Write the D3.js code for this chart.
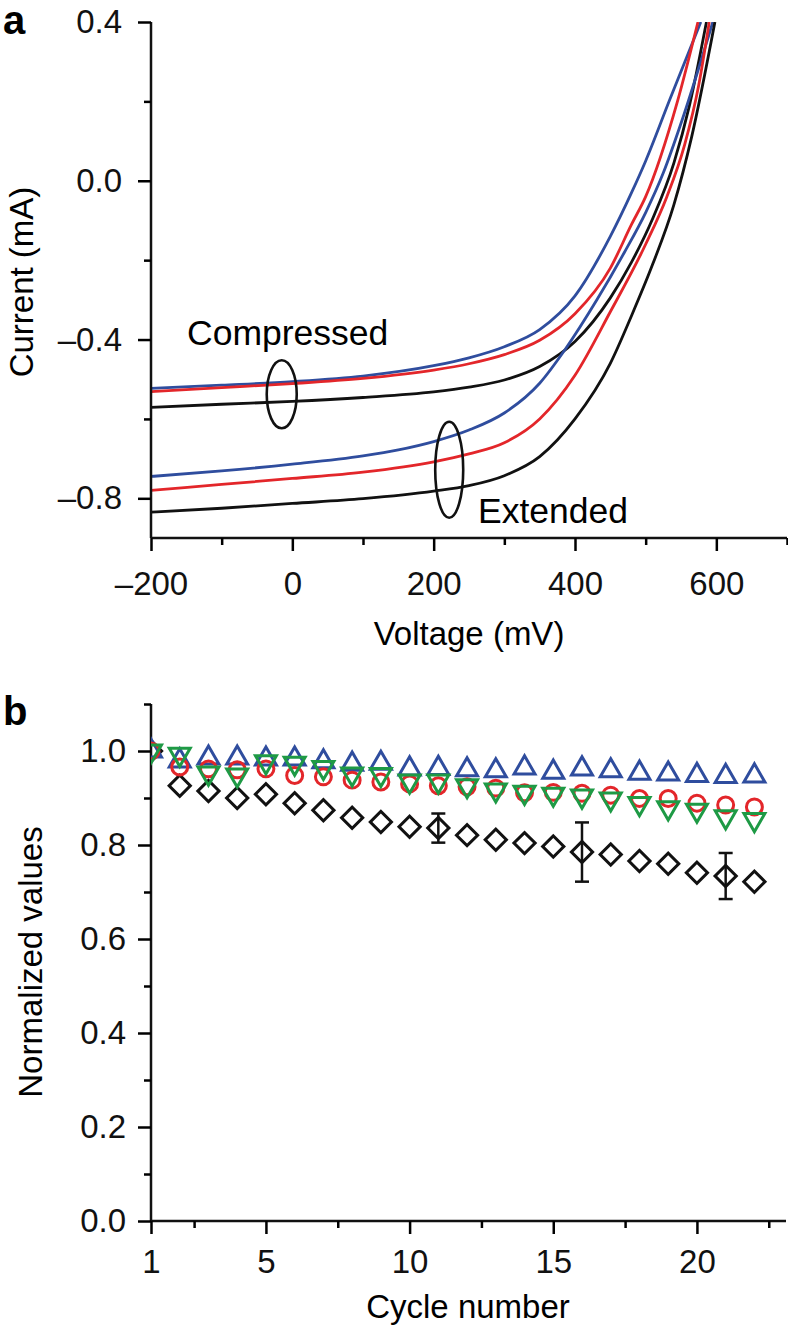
<!DOCTYPE html>
<html>
<head>
<meta charset="utf-8">
<script src="https://cdn.jsdelivr.net/npm/d3@7"></script>
<style>
  body { margin: 0; background: #fff; }
  svg { display: block; font-family: "Liberation Sans", Arial, sans-serif; }
</style>
</head>
<body>
<svg id="chart" width="788" height="1329"></svg>
<script>
// ---- panel a : I-V curves (voltage in mV, current in mA) ----
const compBlueV  = [-200, -100, 0, 100, 200, 250, 300, 350, 400, 450, 480, 500, 534, 578];
const compBlueI  = [-0.523, -0.515, -0.506, -0.492, -0.466, -0.446, -0.418, -0.375, -0.29, -0.14, -0.03, 0.05, 0.204, 0.40];
const compRedV   = [-200, -100, 0, 100, 200, 250, 300, 350, 400, 450, 480, 500, 545, 574];
const compRedI   = [-0.531, -0.521, -0.511, -0.498, -0.477, -0.461, -0.438, -0.402, -0.335, -0.22, -0.11, -0.04, 0.20, 0.40];
const compBlackV = [-200, -100, 0, 100, 200, 250, 300, 350, 400, 450, 480, 510, 540, 562, 586];
const compBlackI = [-0.571, -0.563, -0.556, -0.546, -0.532, -0.520, -0.502, -0.468, -0.405, -0.295, -0.205, -0.095, 0.045, 0.19, 0.40];
const extBlueV   = [-200, -100, 0, 100, 150, 200, 250, 300, 350, 386, 431, 470, 500, 525, 551, 595];
const extBlueI   = [-0.745, -0.731, -0.714, -0.693, -0.678, -0.657, -0.628, -0.585, -0.51, -0.425, -0.30, -0.18, -0.08, 0.02, 0.15, 0.40];
const extRedV    = [-200, -100, 0, 100, 200, 250, 300, 350, 400, 450, 500, 530, 555, 575, 590];
const extRedI    = [-0.780, -0.765, -0.750, -0.734, -0.708, -0.688, -0.66, -0.60, -0.49, -0.33, -0.16, -0.04, 0.09, 0.24, 0.40];
const extBlackV  = [-200, -100, 0, 100, 200, 250, 300, 350, 400, 450, 480, 510, 540, 565, 598];
const extBlackI  = [-0.835, -0.825, -0.813, -0.801, -0.782, -0.768, -0.743, -0.695, -0.60, -0.46, -0.34, -0.21, -0.06, 0.11, 0.40];

const voltMajorTicks = [-200, 0, 200, 400, 600];
const voltMinorTicks = [-100, 100, 300, 500, 700];
const currMajorTicks = [-0.8, -0.4, 0.0, 0.4];
const currMinorTicks = [-0.6, -0.2, 0.2];

// ---- panel b : normalized values vs cycle ----
const cycles     = [1, 2, 3, 4, 5, 6, 7, 8, 9, 10, 11, 12, 13, 14, 15, 16, 17, 18, 19, 20, 21, 22];
const blueUp     = [1.0, 0.979, 0.985, 0.985, 0.983, 0.983, 0.977, 0.972, 0.974, 0.962, 0.963, 0.960, 0.958, 0.964, 0.955, 0.962, 0.958, 0.953, 0.951, 0.948, 0.946, 0.947];
const redCircle  = [1.0, 0.966, 0.962, 0.960, 0.962, 0.948, 0.945, 0.938, 0.934, 0.930, 0.926, 0.924, 0.921, 0.911, 0.912, 0.910, 0.906, 0.899, 0.899, 0.889, 0.885, 0.881];
const greenDown  = [1.0, 0.993, 0.953, 0.949, 0.977, 0.974, 0.965, 0.951, 0.950, 0.936, 0.936, 0.926, 0.917, 0.912, 0.908, 0.904, 0.898, 0.888, 0.879, 0.874, 0.860, 0.854];
const blackDiam  = [1.0, 0.926, 0.915, 0.900, 0.908, 0.889, 0.874, 0.858, 0.849, 0.839, 0.836, 0.821, 0.811, 0.804, 0.797, 0.785, 0.780, 0.766, 0.760, 0.741, 0.734, 0.722];
const errCycles  = [11, 16, 21];
const errValues  = [0.031, 0.063, 0.049];

const cycleMajorTicks = [1, 5, 10, 15, 20];
const cycleMinorTicks = [2.5, 7.5, 12.5, 17.5, 22.5];
const normMajorTicks  = [0.0, 0.2, 0.4, 0.6, 0.8, 1.0];
const normMinorTicks  = [0.1, 0.3, 0.5, 0.7, 0.9, 1.1];

const BLUE = '#2f4d9e', RED = '#e3262a', BLACK = '#111', GREEN = '#1e9a45';

const svg = d3.select('#chart');
const FS = 33;

// =========================== panel a ===========================
const xa = d3.scaleLinear().domain([-200, 700]).range([151, 787]);
const ya = d3.scaleLinear().domain([-0.9, 0.4]).range([538, 22]);

svg.append('text').attr('x', 3).attr('y', 34)
  .attr('font-size', 40).attr('font-weight', 'bold').text('a');

const ga = svg.append('g');
ga.append('clipPath').attr('id', 'clipA')
  .append('rect').attr('x', 151).attr('y', 22).attr('width', 636).attr('height', 516);

const curves = [
  { v: compBlueV, i: compBlueI, c: BLUE },
  { v: compRedV, i: compRedI, c: RED },
  { v: compBlackV, i: compBlackI, c: BLACK },
  { v: extBlueV, i: extBlueI, c: BLUE },
  { v: extRedV, i: extRedI, c: RED },
  { v: extBlackV, i: extBlackI, c: BLACK }
];

const lineA = d3.line()
  .curve(d3.curveMonotoneX)
  .x(d => xa(d[0]))
  .y(d => ya(d[1]));

const curveG = ga.append('g').attr('clip-path', 'url(#clipA)');
curves.forEach(s => {
  curveG.append('path')
    .attr('d', lineA(s.v.map((v, k) => [v, s.i[k]])))
    .attr('fill', 'none')
    .attr('stroke', s.c)
    .attr('stroke-width', 2.8);
});

// axes
const axA = ga.append('g').attr('stroke', BLACK).attr('stroke-width', 2.5);
axA.append('line').attr('x1', 151).attr('x2', 787).attr('y1', 538).attr('y2', 538);
axA.append('line').attr('x1', 151).attr('x2', 151).attr('y1', 22).attr('y2', 538);

ga.append('g').attr('transform', 'translate(0,538)')
  .call(d3.axisBottom(xa).tickValues(voltMajorTicks).tickSize(13).tickFormat(d => d < 0 ? '\u2013' + Math.abs(d) : d))
  .call(g => g.select('.domain').remove())
  .call(g => g.selectAll('line').attr('stroke-width', 2.5))
  .call(g => g.selectAll('text').attr('font-size', FS).attr('font-family', 'inherit').attr('fill', BLACK).attr('dy', 0).attr('y', 57));
ga.append('g').attr('transform', 'translate(0,538)')
  .call(d3.axisBottom(xa).tickValues(voltMinorTicks).tickSize(7).tickFormat(''))
  .call(g => g.select('.domain').remove())
  .call(g => g.selectAll('line').attr('stroke-width', 2.5));

ga.append('g').attr('transform', 'translate(151,0)')
  .call(d3.axisLeft(ya).tickValues(currMajorTicks).tickSize(13).tickFormat(d => (d < 0 ? '\u2013' : '') + Math.abs(d).toFixed(1)))
  .call(g => g.select('.domain').remove())
  .call(g => g.selectAll('line').attr('stroke-width', 2.5))
  .call(g => g.selectAll('text').attr('font-size', FS).attr('font-family', 'inherit').attr('fill', BLACK).attr('x', -29));
ga.append('g').attr('transform', 'translate(151,0)')
  .call(d3.axisLeft(ya).tickValues(currMinorTicks).tickSize(7).tickFormat(''))
  .call(g => g.select('.domain').remove())
  .call(g => g.selectAll('line').attr('stroke-width', 2.5));

ga.append('text').attr('x', 469).attr('y', 645).attr('text-anchor', 'middle')
  .attr('font-size', FS).text('Voltage (mV)');
ga.append('text').attr('transform', 'translate(33,282) rotate(-90)').attr('text-anchor', 'middle')
  .attr('font-size', FS).text('Current (mA)');

// annotations
ga.append('ellipse').attr('cx', xa(-15)).attr('cy', ya(-0.538)).attr('rx', 15).attr('ry', 34)
  .attr('fill', 'none').attr('stroke', BLACK).attr('stroke-width', 2.6);
ga.append('ellipse').attr('cx', xa(222)).attr('cy', ya(-0.728)).attr('rx', 14).attr('ry', 48)
  .attr('fill', 'none').attr('stroke', BLACK).attr('stroke-width', 2.6);
ga.append('text').attr('x', 187).attr('y', 345).attr('font-size', 35.5).text('Compressed');
ga.append('text').attr('x', 478).attr('y', 523).attr('font-size', 35.5).text('Extended');

// =========================== panel b ===========================
const xb = d3.scaleLinear().domain([1, 23.1]).range([151, 786]);
const yb = d3.scaleLinear().domain([0, 1.1]).range([1221, 704]);

svg.append('text').attr('x', 3).attr('y', 725)
  .attr('font-size', 40).attr('font-weight', 'bold').text('b');

const gb = svg.append('g');
gb.append('clipPath').attr('id', 'clipB')
  .append('rect').attr('x', 151).attr('y', 680).attr('width', 640).attr('height', 541);

const axB = gb.append('g').attr('stroke', BLACK).attr('stroke-width', 2.5);
axB.append('line').attr('x1', 151).attr('x2', 786).attr('y1', 1221).attr('y2', 1221);
axB.append('line').attr('x1', 151).attr('x2', 151).attr('y1', 704).attr('y2', 1221);

gb.append('g').attr('transform', 'translate(0,1221)')
  .call(d3.axisBottom(xb).tickValues(cycleMajorTicks).tickSize(13))
  .call(g => g.select('.domain').remove())
  .call(g => g.selectAll('line').attr('stroke-width', 2.5))
  .call(g => g.selectAll('text').attr('font-size', FS).attr('font-family', 'inherit').attr('fill', BLACK).attr('dy', 0).attr('y', 52));
gb.append('g').attr('transform', 'translate(0,1221)')
  .call(d3.axisBottom(xb).tickValues(cycleMinorTicks).tickSize(7).tickFormat(''))
  .call(g => g.select('.domain').remove())
  .call(g => g.selectAll('line').attr('stroke-width', 2.5));

gb.append('g').attr('transform', 'translate(151,0)')
  .call(d3.axisLeft(yb).tickValues(normMajorTicks).tickSize(13).tickFormat(d3.format('.1f')))
  .call(g => g.select('.domain').remove())
  .call(g => g.selectAll('line').attr('stroke-width', 2.5))
  .call(g => g.selectAll('text').attr('font-size', FS).attr('font-family', 'inherit').attr('fill', BLACK).attr('x', -25));
gb.append('g').attr('transform', 'translate(151,0)')
  .call(d3.axisLeft(yb).tickValues(normMinorTicks).tickSize(7).tickFormat(''))
  .call(g => g.select('.domain').remove())
  .call(g => g.selectAll('line').attr('stroke-width', 2.5));

gb.append('text').attr('x', 468).attr('y', 1318).attr('text-anchor', 'middle')
  .attr('font-size', FS).text('Cycle number');
gb.append('text').attr('transform', 'translate(42,962) rotate(-90)').attr('text-anchor', 'middle')
  .attr('font-size', FS).text('Normalized values');

// markers
const markG = gb.append('g').attr('clip-path', 'url(#clipB)');

// error bars for black series
errCycles.forEach((c, k) => {
  const v = blackDiam[cycles.indexOf(c)];
  const e = errValues[k];
  const x = xb(c);
  const eb = markG.append('g').attr('stroke', BLACK).attr('stroke-width', 2.5);
  eb.append('line').attr('x1', x).attr('x2', x).attr('y1', yb(v + e)).attr('y2', yb(v - e));
  eb.append('line').attr('x1', x - 7).attr('x2', x + 7).attr('y1', yb(v + e)).attr('y2', yb(v + e));
  eb.append('line').attr('x1', x - 7).attr('x2', x + 7).attr('y1', yb(v - e)).attr('y2', yb(v - e));
});

const series = [
  { vals: blackDiam, c: BLACK, sym: d3.symbolSquare, size: 225, rot: 45 },
  { vals: blueUp, c: BLUE, sym: d3.symbolTriangle, size: 190, rot: 0 },
  { vals: redCircle, c: RED, sym: d3.symbolCircle, size: 200, rot: 0 },
  { vals: greenDown, c: GREEN, sym: d3.symbolTriangle, size: 190, rot: 180 }
];

series.forEach(s => {
  const path = d3.symbol().type(s.sym).size(s.size)();
  markG.append('g').selectAll('path')
    .data(cycles)
    .join('path')
    .attr('d', path)
    .attr('transform', (c, k) => `translate(${xb(c)},${yb(s.vals[k])}) rotate(${s.rot})`)
    .attr('fill', 'none')
    .attr('stroke', s.c)
    .attr('stroke-width', 3);
});
</script>
</body>
</html>
